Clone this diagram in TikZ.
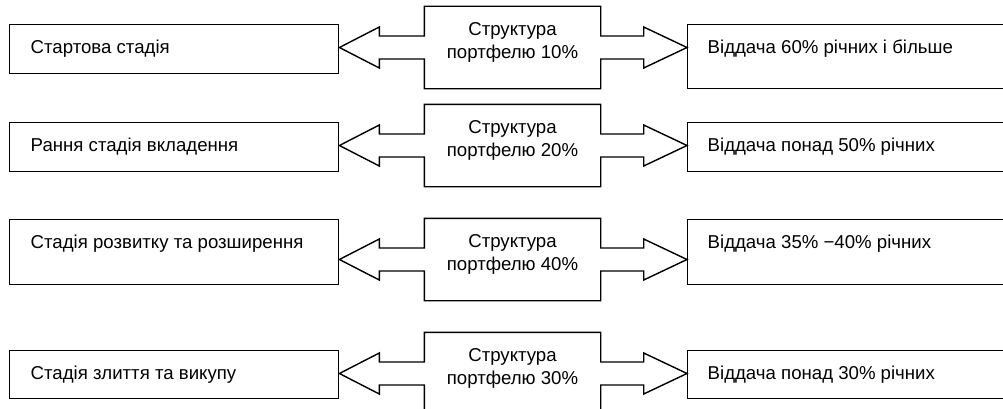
\documentclass[tikz,border=0pt]{standalone}
\usepackage{fontspec}
\setmainfont{Liberation Sans}
\usetikzlibrary{positioning}

\begin{document}
\begin{tikzpicture}[line width=0.8pt,
  stagebox/.style={draw, anchor=north west, inner sep=0pt, minimum width=6.58cm},
  yieldbox/.style={draw, anchor=north west, inner sep=0pt, minimum width=7cm},
  midbox/.style={inner sep=0pt, minimum width=3.5cm, minimum height=1.62cm},
  boxtext/.style={anchor=base west, inner sep=0pt, font=\fontsize{10.6}{12.8}\selectfont},
  midtext/.style={align=center, inner sep=0pt, font=\fontsize{10.6}{12.8}\selectfont}]
\useasboundingbox (0,0) rectangle (20.06,8.16);

% Row 1: start-up stage
\node[stagebox, minimum height=0.98cm] (s1) at (0.18,7.68) {};
\node[boxtext] (s1t) at ([shift={(0.42,-0.59)}]s1.north west) {Стартова стадія};
\node[midbox] (m1) at (10.25,7.21) {};
\node[midtext] (m1t) at ([yshift=-0.72cm]m1.north) {Структура\\портфелю 10\%};
\node[yieldbox, minimum height=1.28cm] (r1) at (13.74,7.68) {};
\node[boxtext] (r1t) at ([shift={(0.40,-0.59)}]r1.north west) {Віддача 60\% річних і більше};
\draw (m1.north west) -- (m1.north east) -- ([yshift=0.23cm]m1.east) -- ++(0.86,0) -- ++(0,0.18)
  -- (r1.west |- m1.east) -- ([shift={(0.86,-0.41)}]m1.east) -- ++(0,0.18) -- ([yshift=-0.23cm]m1.east)
  -- (m1.south east) -- (m1.south west) -- ([yshift=-0.23cm]m1.west) -- ++(-0.9,0) -- ++(0,-0.18)
  -- (s1.east |- m1.west) -- ([shift={(-0.9,0.41)}]m1.west) -- ++(0,-0.18) -- ([yshift=0.23cm]m1.west) -- cycle;

% Row 2: early stage
\node[stagebox, minimum height=0.98cm] (s2) at (0.18,5.72) {};
\node[boxtext] (s2t) at ([shift={(0.42,-0.59)}]s2.north west) {Рання стадія вкладення};
\node[midbox] (m2) at (10.25,5.25) {};
\node[midtext] (m2t) at ([yshift=-0.72cm]m2.north) {Структура\\портфелю 20\%};
\node[yieldbox, minimum height=0.98cm] (r2) at (13.74,5.72) {};
\node[boxtext] (r2t) at ([shift={(0.40,-0.59)}]r2.north west) {Віддача понад 50\% річних};
\draw (m2.north west) -- (m2.north east) -- ([yshift=0.23cm]m2.east) -- ++(0.86,0) -- ++(0,0.18)
  -- (r2.west |- m2.east) -- ([shift={(0.86,-0.41)}]m2.east) -- ++(0,0.18) -- ([yshift=-0.23cm]m2.east)
  -- (m2.south east) -- (m2.south west) -- ([yshift=-0.23cm]m2.west) -- ++(-0.9,0) -- ++(0,-0.18)
  -- (s2.east |- m2.west) -- ([shift={(-0.9,0.41)}]m2.west) -- ++(0,-0.18) -- ([yshift=0.23cm]m2.west) -- cycle;

% Row 3: expansion stage
\node[stagebox, minimum height=1.30cm] (s3) at (0.18,3.78) {};
\node[boxtext] (s3t) at ([shift={(0.42,-0.59)}]s3.north west) {Стадія розвитку та розширення};
\node[midbox] (m3) at (10.25,2.97) {};
\node[midtext] (m3t) at ([yshift=-0.72cm]m3.north) {Структура\\портфелю 40\%};
\node[yieldbox, minimum height=1.30cm] (r3) at (13.74,3.78) {};
\node[boxtext] (r3t) at ([shift={(0.40,-0.59)}]r3.north west) {Віддача 35\% −40\% річних};
\draw (m3.north west) -- (m3.north east) -- ([yshift=0.23cm]m3.east) -- ++(0.86,0) -- ++(0,0.18)
  -- (r3.west |- m3.east) -- ([shift={(0.86,-0.41)}]m3.east) -- ++(0,0.18) -- ([yshift=-0.23cm]m3.east)
  -- (m3.south east) -- (m3.south west) -- ([yshift=-0.23cm]m3.west) -- ++(-0.9,0) -- ++(0,-0.18)
  -- (s3.east |- m3.west) -- ([shift={(-0.9,0.41)}]m3.west) -- ++(0,-0.18) -- ([yshift=0.23cm]m3.west) -- cycle;

% Row 4: merger and buyout stage
\node[stagebox, minimum height=0.96cm] (s4) at (0.18,1.16) {};
\node[boxtext] (s4t) at ([shift={(0.42,-0.59)}]s4.north west) {Стадія злиття та викупу};
\node[midbox] (m4) at (10.25,0.69) {};
\node[midtext] (m4t) at ([yshift=-0.72cm]m4.north) {Структура\\портфелю 30\%};
\node[yieldbox, minimum height=0.96cm] (r4) at (13.74,1.16) {};
\node[boxtext] (r4t) at ([shift={(0.40,-0.59)}]r4.north west) {Віддача понад 30\% річних};
\draw (m4.north west) -- (m4.north east) -- ([yshift=0.23cm]m4.east) -- ++(0.86,0) -- ++(0,0.18)
  -- (r4.west |- m4.east) -- ([shift={(0.86,-0.41)}]m4.east) -- ++(0,0.18) -- ([yshift=-0.23cm]m4.east)
  -- (m4.south east) -- (m4.south west) -- ([yshift=-0.23cm]m4.west) -- ++(-0.9,0) -- ++(0,-0.18)
  -- (s4.east |- m4.west) -- ([shift={(-0.9,0.41)}]m4.west) -- ++(0,-0.18) -- ([yshift=0.23cm]m4.west) -- cycle;
\end{tikzpicture}
\end{document}
